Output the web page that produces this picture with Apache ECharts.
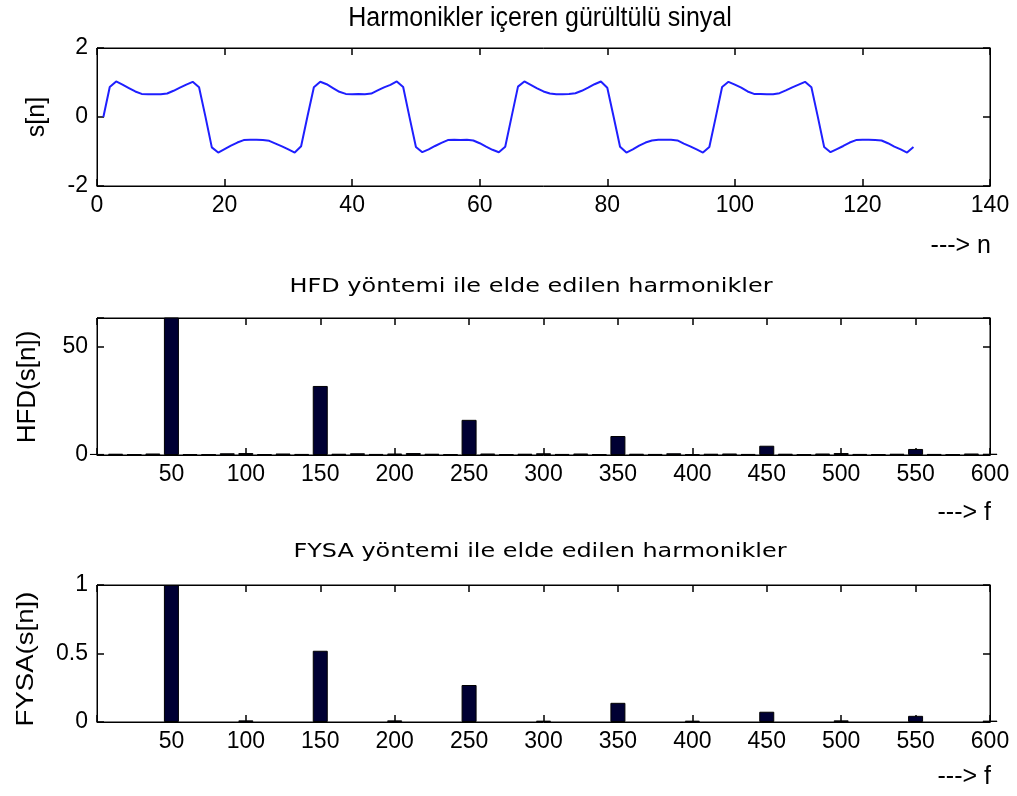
<!DOCTYPE html>
<html><head><meta charset="utf-8">
<script src="https://cdn.jsdelivr.net/npm/echarts@6/dist/echarts.min.js"></script>
<style>html,body{margin:0;padding:0;background:#fff}#c{width:1017px;height:796px}</style>
</head><body><div id="c"></div>
<script>
// ---- data ----
const signalN = Array.from({length: 128}, (_, i) => i + 1);
const signalS = [
  0.00, 0.87, 1.03, 0.94, 0.84, 0.74, 0.67, 0.66, 0.66, 0.66, 0.68, 0.76, 0.85, 0.94, 1.02, 0.86,
  0.01, -0.88, -1.03, -0.93, -0.83, -0.74, -0.67, -0.66, -0.66, -0.67, -0.69, -0.77, -0.85, -0.94, -1.03, -0.85,
  0.02, 0.86, 1.02, 0.95, 0.84, 0.73, 0.67, 0.66, 0.67, 0.66, 0.68, 0.77, 0.86, 0.93, 1.03, 0.87,
  -0.01, -0.87, -1.02, -0.94, -0.84, -0.75, -0.67, -0.66, -0.67, -0.66, -0.68, -0.76, -0.86, -0.95, -1.02, -0.86,
  0.01, 0.88, 1.03, 0.93, 0.83, 0.74, 0.68, 0.66, 0.66, 0.67, 0.69, 0.76, 0.85, 0.95, 1.03, 0.85,
  0.00, -0.86, -1.03, -0.94, -0.83, -0.74, -0.68, -0.66, -0.66, -0.66, -0.68, -0.77, -0.85, -0.94, -1.03, -0.87,
  -0.01, 0.87, 1.02, 0.94, 0.85, 0.74, 0.67, 0.67, 0.66, 0.66, 0.69, 0.77, 0.86, 0.94, 1.02, 0.86,
  0.01, -0.87, -1.02, -0.93, -0.84, -0.74, -0.67, -0.66, -0.66, -0.67, -0.68, -0.76, -0.86, -0.94, -1.03, -0.87
];
const hfdFreq = [
  0, 12.5, 25, 37.5, 50, 62.5, 75, 87.5, 100, 112.5, 125, 137.5, 150, 162.5, 175, 187.5,
  200, 212.5, 225, 237.5, 250, 262.5, 275, 287.5, 300, 312.5, 325, 337.5, 350, 362.5, 375, 387.5,
  400, 412.5, 425, 437.5, 450, 462.5, 475, 487.5, 500, 512.5, 525, 537.5, 550, 562.5, 575, 587.5, 600
];
const hfdValues = [
  0.5, 0.6, 0.3, 0.7, 64, 0.4, 0.3, 0.8, 0.9, 0.4, 0.7, 0.5, 32, 0.6, 0.8, 0.5,
  0.7, 0.9, 0.6, 0.4, 16.3, 0.7, 0.3, 0.6, 0.8, 0.5, 0.7, 0.4, 8.8, 0.6, 0.5, 0.8,
  0.4, 0.6, 0.7, 0.5, 4.3, 0.6, 0.3, 0.7, 0.9, 0.5, 0.4, 0.6, 2.8, 0.5, 0.3, 0.7, 0.6
];
const fysaFreq = [50, 100, 150, 200, 250, 300, 350, 400, 450, 500, 550, 600];
const fysaValues = [1.0, 0.012, 0.52, 0.012, 0.27, 0.01, 0.14, 0.01, 0.075, 0.012, 0.045, 0.01];

const topXTicks = [0, 20, 40, 60, 80, 100, 120, 140];
const topYTicks = [-2, 0, 2];
const freqTicks = [0, 50, 100, 150, 200, 250, 300, 350, 400, 450, 500, 550, 600];
const hfdYTicks = [0, 50];
const fysaYTicks = [0, 0.5, 1];

const titles = ['Harmonikler içeren gürültülü sinyal', 'HFD yöntemi ile elde edilen harmonikler', 'FYSA yöntemi ile elde edilen harmonikler'];
const yNames = ['s[n]', 'HFD(s[n])', 'FYSA(s[n])'];
const xNames = ['---> n', '---> f', '---> f'];

// ---- chart ----
const FONT = 'Liberation Sans, Arial, sans-serif';
const grids = [
  {left: 97, top: 48, width: 893, height: 138},
  {left: 97, top: 318, width: 893, height: 137},
  {left: 97, top: 585, width: 893, height: 137}
].map(g => Object.assign(g, {show: true, borderColor: '#000', borderWidth: 1, backgroundColor: '#fff'}));

function xAx(gi, ticks, pos, fmt) {
  return {
    gridIndex: gi, type: 'value', position: pos,
    min: ticks[0], max: ticks[ticks.length - 1], interval: ticks[1] - ticks[0],
    axisLine: {show: true, onZero: false, lineStyle: {color: '#000', width: 1}},
    axisTick: {show: true, inside: true, length: 7, lineStyle: {color: '#000', width: 1.5}},
    axisLabel: {show: pos === 'bottom', color: '#000', fontSize: 23, fontFamily: FONT, margin: 8, formatter: fmt},
    splitLine: {show: false}
  };
}
function yAx(gi, ticks, max, pos, fmt) {
  return {
    gridIndex: gi, type: 'value', position: pos,
    min: ticks[0], max: max, interval: ticks[1] - ticks[0],
    axisLine: {show: true, onZero: false, lineStyle: {color: '#000', width: 1}},
    axisTick: {show: true, inside: true, length: 7, lineStyle: {color: '#000', width: 1.5}},
    axisLabel: {show: pos === 'left', color: '#000', fontSize: 23, fontFamily: FONT, margin: 9, formatter: fmt,
      showMaxLabel: true},
    splitLine: {show: false}
  };
}
const hideZero = v => (v === 0 ? '' : String(v));
const onlyTicks = list => v => (list.indexOf(v) >= 0 ? String(v) : '');

const xAxes = [
  xAx(0, topXTicks, 'bottom', v => String(v)), xAx(0, topXTicks, 'top'),
  xAx(1, freqTicks, 'bottom', hideZero), xAx(1, freqTicks, 'top'),
  xAx(2, freqTicks, 'bottom', hideZero), xAx(2, freqTicks, 'top')
];
const yAxes = [
  yAx(0, topYTicks, 2, 'left', onlyTicks(topYTicks)), yAx(0, topYTicks, 2, 'right'),
  yAx(1, hfdYTicks, 63.5, 'left', onlyTicks(hfdYTicks)), yAx(1, hfdYTicks, 63.5, 'right'),
  yAx(2, fysaYTicks, 1, 'left', onlyTicks(fysaYTicks)), yAx(2, fysaYTicks, 1, 'right')
];

const barStyle = {color: '#000033', borderColor: '#000', borderWidth: 1};
const series = [
  {type: 'line', xAxisIndex: 0, yAxisIndex: 0, showSymbol: false, symbol: 'none',
   lineStyle: {color: '#1f1fff', width: 2}, data: signalN.map((n, i) => [n, signalS[i]]), z: 3},
  {type: 'bar', xAxisIndex: 2, yAxisIndex: 2, barWidth: 15, itemStyle: barStyle,
   data: hfdFreq.map((f, i) => [f, hfdValues[i]])},
  {type: 'bar', xAxisIndex: 4, yAxisIndex: 4, barWidth: 15, itemStyle: barStyle,
   data: fysaFreq.map((f, i) => [f, fysaValues[i]])}
];

const graphic = [
  {type: 'text', x: 540, y: 18, scaleY: 1.1, style: {text: titles[0], font: '25px ' + FONT, fill: '#000', textAlign: 'center', textVerticalAlign: 'middle'}},
  {type: 'text', x: 531, y: 287, scaleX: 1.26, style: {text: titles[1], font: '19px DejaVu Sans', fill: '#000', textAlign: 'center', textVerticalAlign: 'middle'}},
  {type: 'text', x: 540, y: 552, scaleX: 1.26, style: {text: titles[2], font: '19px DejaVu Sans', fill: '#000', textAlign: 'center', textVerticalAlign: 'middle'}},
  {type: 'text', x: 37, y: 117, rotation: Math.PI / 2, style: {text: yNames[0], font: '25px ' + FONT, fill: '#000', textAlign: 'center', textVerticalAlign: 'middle'}},
  {type: 'text', x: 28, y: 387, rotation: Math.PI / 2, style: {text: yNames[1], font: '26px ' + FONT, fill: '#000', textAlign: 'center', textVerticalAlign: 'middle'}},
  {type: 'text', x: 26, y: 659, rotation: Math.PI / 2, scaleX: 1.15, style: {text: yNames[2], font: '24px ' + FONT, fill: '#000', textAlign: 'center', textVerticalAlign: 'middle'}},
  {type: 'text', x: 991, y: 246, style: {text: xNames[0], font: '25px ' + FONT, fill: '#000', textAlign: 'right', textVerticalAlign: 'middle'}},
  {type: 'text', x: 991, y: 513, style: {text: xNames[1], font: '25px ' + FONT, fill: '#000', textAlign: 'right', textVerticalAlign: 'middle'}},
  {type: 'text', x: 991, y: 777, style: {text: xNames[2], font: '25px ' + FONT, fill: '#000', textAlign: 'right', textVerticalAlign: 'middle'}}
];

const chart = echarts.init(document.getElementById('c'), null, {renderer: 'canvas'});
chart.setOption({
  backgroundColor: '#fff',
  animation: false,
  grid: grids,
  xAxis: xAxes,
  yAxis: yAxes,
  series: series,
  graphic: graphic
});
</script></body></html>
